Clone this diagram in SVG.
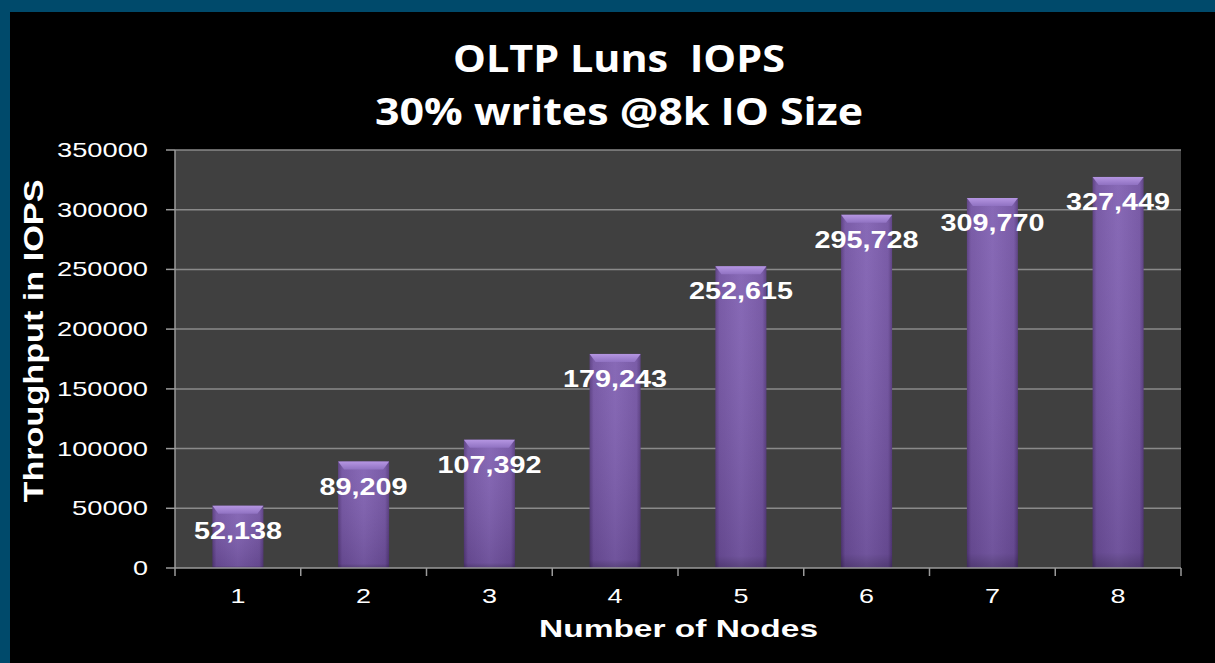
<svg xmlns="http://www.w3.org/2000/svg" width="1215" height="663" viewBox="0 0 1215 663">
<style>
.title{font-family:"Open Sans","Liberation Sans",sans-serif;font-weight:700;font-size:37px;fill:#ffffff;text-anchor:middle}
.tick{font-family:"Liberation Sans",Arial,sans-serif;font-size:21px;fill:#ffffff}
.ytick{text-anchor:end}
.xtick{text-anchor:middle}
.axt{font-family:"Liberation Sans",Arial,sans-serif;font-weight:700;font-size:24px;fill:#ffffff;text-anchor:middle}
.ytitle{font-size:28px}
.val{font-family:"Liberation Sans",Arial,sans-serif;font-weight:700;font-size:24px;fill:#ffffff;text-anchor:middle}
.grid{stroke:#8a8a8a;stroke-width:1.5}
.axis{stroke:#9a9a9a;stroke-width:1.5;fill:none}
.body{fill:url(#gH)}
.shade{fill:url(#gV)}
.bevel{fill:url(#gT)}
</style>
<defs>
<linearGradient id="gH" x1="0" y1="0" x2="1" y2="0">
<stop offset="0" stop-color="#56397e"/>
<stop offset="0.08" stop-color="#7252a2"/>
<stop offset="0.5" stop-color="#8060b2"/>
<stop offset="0.92" stop-color="#7252a2"/>
<stop offset="1" stop-color="#56397e"/>
</linearGradient>
<linearGradient id="gV" x1="0" y1="0" x2="0" y2="1">
<stop offset="0" stop-color="#ffffff" stop-opacity="0.06"/>
<stop offset="0.96" stop-color="#000000" stop-opacity="0.12"/>
<stop offset="1" stop-color="#000000" stop-opacity="0.3"/>
</linearGradient>
<linearGradient id="gT" x1="0" y1="0" x2="0" y2="1">
<stop offset="0" stop-color="#b596e2"/>
<stop offset="1" stop-color="#9072c2"/>
</linearGradient>
</defs>
<rect x="0" y="0" width="1215" height="663" fill="#000000"/>
<rect x="0" y="0" width="1215" height="12" fill="#004a6b"/>
<rect x="0" y="0" width="10" height="663" fill="#004a6b"/>

<g id="title">
<text class="title" x="619" y="72" textLength="332" lengthAdjust="spacingAndGlyphs" xml:space="preserve">OLTP Luns  IOPS</text>
<text class="title" x="619" y="125" textLength="488" lengthAdjust="spacingAndGlyphs">30% writes @8k IO Size</text>
</g>

<g id="plot">
<rect x="175" y="150" width="1006" height="418" fill="#404040"/>
<line class="grid" x1="175" y1="150" x2="1181" y2="150"/>
<line class="grid" x1="175" y1="209.7" x2="1181" y2="209.7"/>
<line class="grid" x1="175" y1="269.4" x2="1181" y2="269.4"/>
<line class="grid" x1="175" y1="329.1" x2="1181" y2="329.1"/>
<line class="grid" x1="175" y1="388.9" x2="1181" y2="388.9"/>
<line class="grid" x1="175" y1="448.6" x2="1181" y2="448.6"/>
<line class="grid" x1="175" y1="508.3" x2="1181" y2="508.3"/>
</g>

<g id="bars">
<g id="bar1"><rect class="body" x="212.4" y="505.7" width="51" height="62.3"/><rect class="shade" x="212.4" y="505.7" width="51" height="62.3"/><polygon class="bevel" points="212.4,505.7 263.4,505.7 257.4,513.7 218.4,513.7"/></g>
<g id="bar2"><rect class="body" x="338.1" y="461.5" width="51" height="106.5"/><rect class="shade" x="338.1" y="461.5" width="51" height="106.5"/><polygon class="bevel" points="338.1,461.5 389.1,461.5 383.1,469.5 344.1,469.5"/></g>
<g id="bar3"><rect class="body" x="463.9" y="439.7" width="51" height="128.3"/><rect class="shade" x="463.9" y="439.7" width="51" height="128.3"/><polygon class="bevel" points="463.9,439.7 514.9,439.7 508.9,447.7 469.9,447.7"/></g>
<g id="bar4"><rect class="body" x="589.6" y="353.9" width="51" height="214.1"/><rect class="shade" x="589.6" y="353.9" width="51" height="214.1"/><polygon class="bevel" points="589.6,353.9 640.6,353.9 634.6,361.9 595.6,361.9"/></g>
<g id="bar5"><rect class="body" x="715.4" y="266.3" width="51" height="301.7"/><rect class="shade" x="715.4" y="266.3" width="51" height="301.7"/><polygon class="bevel" points="715.4,266.3 766.4,266.3 760.4,274.3 721.4,274.3"/></g>
<g id="bar6"><rect class="body" x="841.1" y="214.8" width="51" height="353.2"/><rect class="shade" x="841.1" y="214.8" width="51" height="353.2"/><polygon class="bevel" points="841.1,214.8 892.1,214.8 886.1,222.8 847.1,222.8"/></g>
<g id="bar7"><rect class="body" x="966.9" y="198" width="51" height="370"/><rect class="shade" x="966.9" y="198" width="51" height="370"/><polygon class="bevel" points="966.9,198 1017.9,198 1011.9,206 972.9,206"/></g>
<g id="bar8"><rect class="body" x="1092.6" y="176.9" width="51" height="391.1"/><rect class="shade" x="1092.6" y="176.9" width="51" height="391.1"/><polygon class="bevel" points="1092.6,176.9 1143.6,176.9 1137.6,184.9 1098.6,184.9"/></g>
</g>

<g id="axes">
<line class="axis" x1="175" y1="150" x2="175" y2="576"/>
<line class="axis" x1="166" y1="568" x2="1181" y2="568"/>
<line class="axis" x1="166" y1="150" x2="175" y2="150"/>
<line class="axis" x1="166" y1="209.7" x2="175" y2="209.7"/>
<line class="axis" x1="166" y1="269.4" x2="175" y2="269.4"/>
<line class="axis" x1="166" y1="329.1" x2="175" y2="329.1"/>
<line class="axis" x1="166" y1="388.9" x2="175" y2="388.9"/>
<line class="axis" x1="166" y1="448.6" x2="175" y2="448.6"/>
<line class="axis" x1="166" y1="508.3" x2="175" y2="508.3"/>
<line class="axis" x1="300.75" y1="568" x2="300.75" y2="576"/>
<line class="axis" x1="426.5" y1="568" x2="426.5" y2="576"/>
<line class="axis" x1="552.25" y1="568" x2="552.25" y2="576"/>
<line class="axis" x1="678" y1="568" x2="678" y2="576"/>
<line class="axis" x1="803.75" y1="568" x2="803.75" y2="576"/>
<line class="axis" x1="929.5" y1="568" x2="929.5" y2="576"/>
<line class="axis" x1="1055.25" y1="568" x2="1055.25" y2="576"/>
<line class="axis" x1="1181" y1="568" x2="1181" y2="576"/>
</g>

<g id="y-labels">
<text class="tick ytick" x="148" y="157" textLength="91" lengthAdjust="spacingAndGlyphs">350000</text>
<text class="tick ytick" x="148" y="216.7" textLength="91" lengthAdjust="spacingAndGlyphs">300000</text>
<text class="tick ytick" x="148" y="276.4" textLength="91" lengthAdjust="spacingAndGlyphs">250000</text>
<text class="tick ytick" x="148" y="336.1" textLength="91" lengthAdjust="spacingAndGlyphs">200000</text>
<text class="tick ytick" x="148" y="395.9" textLength="91" lengthAdjust="spacingAndGlyphs">150000</text>
<text class="tick ytick" x="148" y="455.6" textLength="91" lengthAdjust="spacingAndGlyphs">100000</text>
<text class="tick ytick" x="148" y="515.3" textLength="76" lengthAdjust="spacingAndGlyphs">50000</text>
<text class="tick ytick" x="148" y="575" textLength="15" lengthAdjust="spacingAndGlyphs">0</text>
</g>

<g id="x-labels">
<text class="tick xtick" x="237.9" y="603" textLength="15" lengthAdjust="spacingAndGlyphs">1</text>
<text class="tick xtick" x="363.6" y="603" textLength="15" lengthAdjust="spacingAndGlyphs">2</text>
<text class="tick xtick" x="489.4" y="603" textLength="15" lengthAdjust="spacingAndGlyphs">3</text>
<text class="tick xtick" x="615.1" y="603" textLength="15" lengthAdjust="spacingAndGlyphs">4</text>
<text class="tick xtick" x="740.9" y="603" textLength="15" lengthAdjust="spacingAndGlyphs">5</text>
<text class="tick xtick" x="866.6" y="603" textLength="15" lengthAdjust="spacingAndGlyphs">6</text>
<text class="tick xtick" x="992.4" y="603" textLength="15" lengthAdjust="spacingAndGlyphs">7</text>
<text class="tick xtick" x="1118.1" y="603" textLength="15" lengthAdjust="spacingAndGlyphs">8</text>
</g>

<g id="value-labels">
<text class="val" x="237.9" y="538.7" textLength="88" lengthAdjust="spacingAndGlyphs">52,138</text>
<text class="val" x="363.6" y="494.5" textLength="88" lengthAdjust="spacingAndGlyphs">89,209</text>
<text class="val" x="489.4" y="472.7" textLength="104" lengthAdjust="spacingAndGlyphs">107,392</text>
<text class="val" x="615.1" y="386.9" textLength="104" lengthAdjust="spacingAndGlyphs">179,243</text>
<text class="val" x="740.9" y="299.3" textLength="104" lengthAdjust="spacingAndGlyphs">252,615</text>
<text class="val" x="866.6" y="247.8" textLength="104" lengthAdjust="spacingAndGlyphs">295,728</text>
<text class="val" x="992.4" y="231" textLength="104" lengthAdjust="spacingAndGlyphs">309,770</text>
<text class="val" x="1118.1" y="209.9" textLength="104" lengthAdjust="spacingAndGlyphs">327,449</text>
</g>

<g id="axis-titles">
<text class="axt" x="678.5" y="637" textLength="279" lengthAdjust="spacingAndGlyphs">Number of Nodes</text>
<text class="axt ytitle" transform="translate(43,341) rotate(-90)" x="0" y="0" textLength="323" lengthAdjust="spacingAndGlyphs">Throughput in IOPS</text>
</g>
</svg>
